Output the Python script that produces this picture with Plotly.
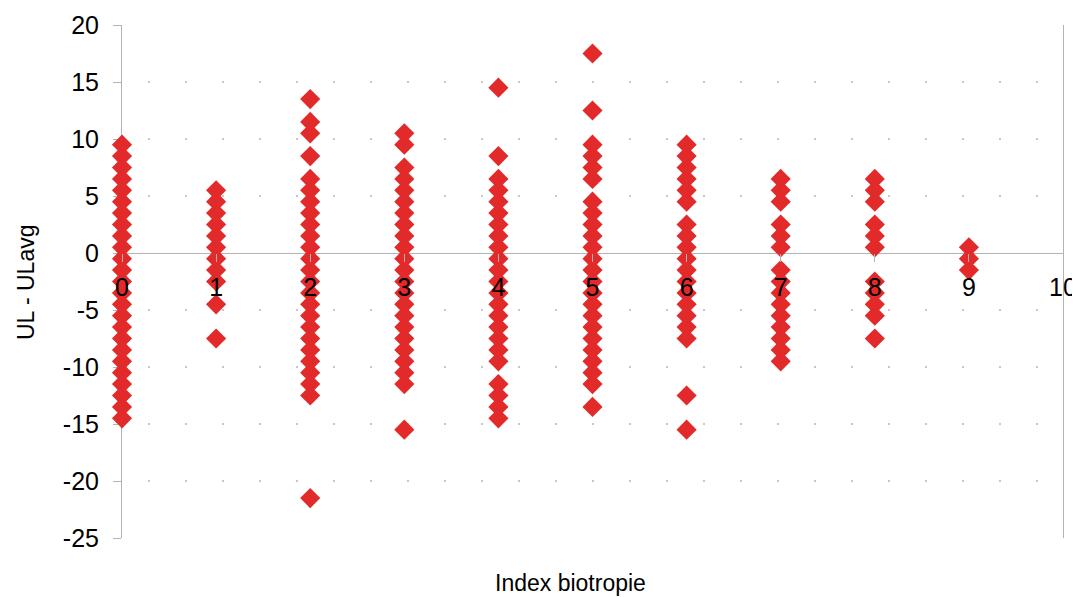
import plotly.graph_objects as go

# UL - ULavg values per biotropy index
y_idx0 = [9.5, 8.5, 7.5, 6.5, 5.5, 4.5, 3.5, 2.5, 1.5, 0.5, -0.5, -1.5, -2.5, -3.5, -4.5,
          -5.5, -6.5, -7.5, -8.5, -9.5, -10.5, -11.5, -12.5, -13.5, -14.5]
y_idx1 = [5.5, 4.5, 3.5, 2.5, 1.5, 0.5, -0.5, -1.5, -2.5, -4.5, -7.5]
y_idx2 = [13.5, 11.5, 10.5, 8.5, 6.5, 5.5, 4.5, 3.5, 2.5, 1.5, 0.5, -0.5, -1.5, -2.5, -3.5,
          -4.5, -5.5, -6.5, -7.5, -8.5, -9.5, -10.5, -11.5, -12.5, -21.5]
y_idx3 = [10.5, 9.5, 7.5, 6.5, 5.5, 4.5, 3.5, 2.5, 1.5, 0.5, -0.5, -1.5, -2.5, -3.5, -4.5,
          -5.5, -6.5, -7.5, -8.5, -9.5, -10.5, -11.5, -15.5]
y_idx4 = [14.5, 8.5, 6.5, 5.5, 4.5, 3.5, 2.5, 1.5, 0.5, -0.5, -1.5, -2.5, -3.5, -4.5, -5.5,
          -6.5, -7.5, -8.5, -9.5, -11.5, -12.5, -13.5, -14.5]
y_idx5 = [17.5, 12.5, 9.5, 8.5, 7.5, 6.5, 4.5, 3.5, 2.5, 1.5, 0.5, -0.5, -1.5, -2.5, -3.5,
          -4.5, -5.5, -6.5, -7.5, -8.5, -9.5, -10.5, -11.5, -13.5]
y_idx6 = [9.5, 8.5, 7.5, 6.5, 5.5, 4.5, 2.5, 1.5, 0.5, -0.5, -1.5, -2.5, -3.5, -4.5, -5.5,
          -6.5, -7.5, -12.5, -15.5]
y_idx7 = [6.5, 5.5, 4.5, 2.5, 1.5, 0.5, -1.5, -2.5, -3.5, -4.5, -5.5, -6.5, -7.5, -8.5, -9.5]
y_idx8 = [6.5, 5.5, 4.5, 2.5, 1.5, 0.5, -2.5, -3.5, -4.5, -5.5, -7.5]
y_idx9 = [0.5, -0.5, -1.5]

columns = [y_idx0, y_idx1, y_idx2, y_idx3, y_idx4, y_idx5, y_idx6, y_idx7, y_idx8, y_idx9]

x_ticks = [0, 1, 2, 3, 4, 5, 6, 7, 8, 9, 10]
y_ticks = [20, 15, 10, 5, 0, -5, -10, -15, -20, -25]

xs, ys = [], []
for idx, col in enumerate(columns):
    xs += [idx] * len(col)
    ys += col

FONT = "Liberation Sans"
AXIS = "#b3b3b3"
TICK_SIZE = 25
TITLE_SIZE = 23

fig = go.Figure()
fig.add_trace(go.Scatter(
    x=xs, y=ys, mode="markers",
    marker=dict(symbol="diamond", size=15.5, color="#e32a2a", line=dict(width=0)),
    cliponaxis=False, showlegend=False, hoverinfo="x+y",
))

# the page body has an 8px margin, so the figure is sized to fit inside the window
fig.update_layout(
    width=1072, height=589,
    margin=dict(l=114, r=17, t=17, b=59, autoexpand=False),
    paper_bgcolor="white", plot_bgcolor="white",
    font=dict(family=FONT, color="#000000"),
    xaxis=dict(
        range=[0, 10], tickvals=x_ticks, ticktext=[str(v) for v in x_ticks],
        anchor="free", position=25 / 45, automargin=False,
        showline=False, showgrid=False, zeroline=False,
        ticks="outside", ticklen=8, tickcolor=AXIS, tickwidth=1,
        tickfont=dict(family=FONT, size=TICK_SIZE, color="#000000"),
        ticklabelstandoff=4,
        layer="above traces",
    ),
    yaxis=dict(
        range=[-25, 20], tickvals=y_ticks, ticktext=[str(v) for v in y_ticks],
        automargin=False,
        showline=True, linecolor=AXIS, linewidth=1, mirror=True,
        ticks="outside", ticklen=8, tickcolor=AXIS, tickwidth=1,
        tickfont=dict(family=FONT, size=TICK_SIZE, color="#000000"),
        ticklabelstandoff=9,
        showgrid=True, gridcolor="#c8c8c8", gridwidth=1.5,
        griddash="0px,26px,1.5px,9.5px",
        zeroline=True, zerolinecolor=AXIS, zerolinewidth=1,
        layer="below traces",
    ),
    annotations=[
        dict(text="Index biotropie", xref="paper", yref="paper", x=(570 - 122) / 941, y=-45 / 513,
             xanchor="center", yanchor="middle", showarrow=False,
             font=dict(family=FONT, size=TITLE_SIZE, color="#000000")),
        dict(text="UL - ULavg", xref="paper", yref="paper", x=-96 / 941, y=(538 - 283) / 513,
             xanchor="center", yanchor="middle", showarrow=False, textangle=-90,
             font=dict(family=FONT, size=TITLE_SIZE, color="#000000")),
    ],
)

fig.write_html("out.html")
